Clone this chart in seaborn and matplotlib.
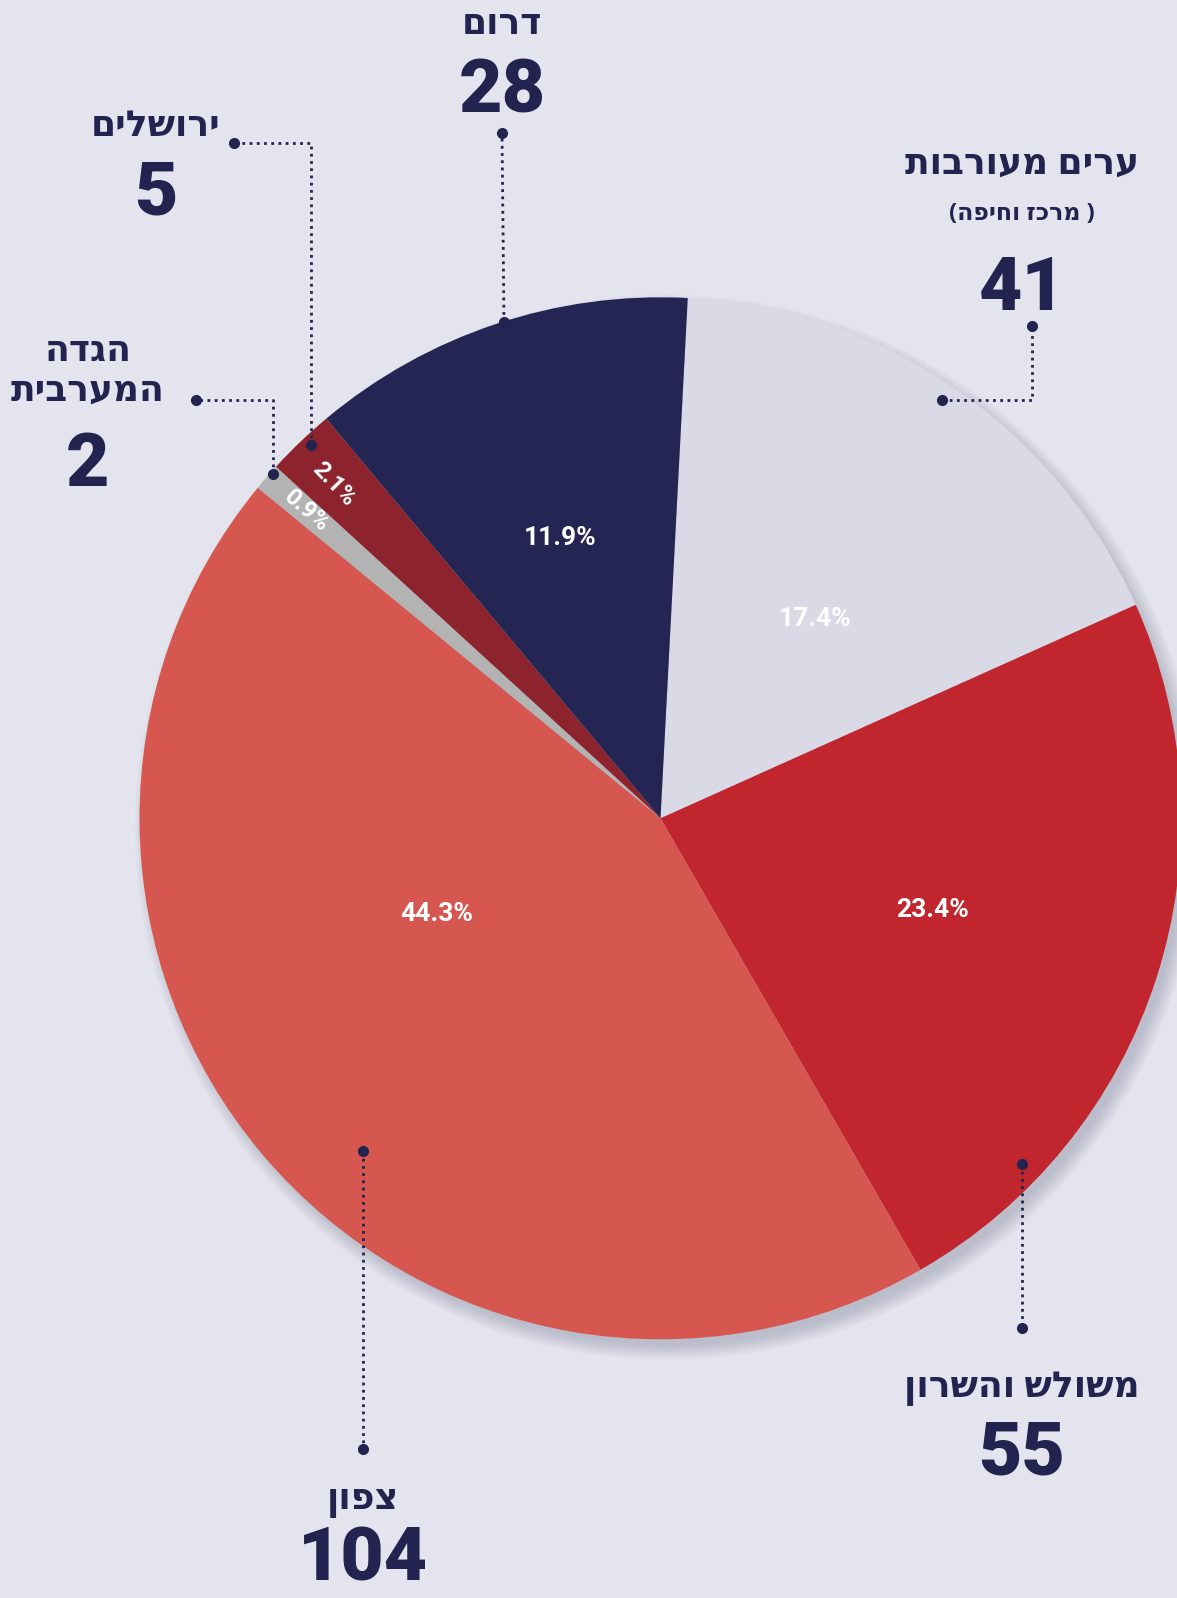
import numpy as np
import matplotlib
matplotlib.use("Agg")
import matplotlib.pyplot as plt
import seaborn as sns
from matplotlib.patches import Circle

# data (logical Hebrew order)
regions = ['ערים מעורבות', 'משולש והשרון', 'צפון', 'הגדה המערבית', 'ירושלים', 'דרום']
counts = [41, 55, 104, 2, 5, 28]
colors = ['#d9dae6', '#c1262f', '#d65750', '#b3b3b3', '#8d242d', '#242552']

W, H = 1177, 1598
BG = '#e3e4ee'
NAVY = '#22244f'
CX, CY, R = 660.5, 818.3, 521


def vis(s):
    # matplotlib has no bidi support, so flip Hebrew into visual order
    return s[::-1]


def Y(y):
    return H - y


sns.set_style('white', {'axes.facecolor': BG, 'figure.facecolor': BG})
heb = ['Open Sans', 'DejaVu Sans']
num = ['Roboto', 'DejaVu Sans']

fig = plt.figure(figsize=(W / 100, H / 100), dpi=100)
ax = fig.add_axes([0, 0, 1, 1])
ax.set_facecolor(BG)

# soft drop shadow
for k in range(14):
    ax.add_patch(Circle((CX + 7, Y(CY) - 9), R - 4 + k * 1.2, color='#8c8da0',
                        alpha=0.035, lw=0, zorder=0))

wedges, texts, autotexts = ax.pie(
    counts, colors=colors, startangle=87, counterclock=False,
    center=(CX, Y(CY)), radius=R, autopct='%1.1f%%', pctdistance=0.55,
    wedgeprops=dict(linewidth=0), textprops=dict(color='white'))

ax.set_xlim(0, W)
ax.set_ylim(0, H)
ax.set_aspect('equal')
ax.axis('off')


def polar(theta, frac):
    t = np.deg2rad(theta)
    return CX + R * frac * np.cos(t), Y(CY) + R * frac * np.sin(t)


# percent label placement: (angle shift from wedge middle, radius fraction, rotate)
pct_layout = [(-3.4, 0.483, False), (-0.7, 0.55, False), (-17.2, 0.468, False),
              (0.0, 0.90, True), (0.7, 0.897, True), (1.3, 0.571, False)]
for w, t, (dth, fr, rot) in zip(wedges, autotexts, pct_layout):
    mid = (w.theta1 + w.theta2) / 2
    t.set_position(polar(mid + dth, fr))
    t.set_fontfamily(num)
    t.set_fontweight('bold')
    t.set_fontsize(19)
    t.set_ha('center')
    t.set_va('center')
    if rot:
        t.set_rotation(mid - 180)
        t.set_fontsize(17)

# leader lines in image pixel coords
leaders = [
    [(942, 400), (1032, 400), (1032, 326)],
    [(1022, 1164), (1022, 1328)],
    [(363, 1151), (363, 1449)],
    [(273, 474), (273, 400), (196, 400)],
    [(311, 445), (311, 143), (234, 143)],
    [(504, 322), (502, 133)],
]
for pts in leaders:
    xs = [p[0] for p in pts]
    ys = [Y(p[1]) for p in pts]
    ax.plot(xs, ys, color=NAVY, lw=2, ls=(0, (1, 1.6)), zorder=5)
    ax.plot([xs[0], xs[-1]], [ys[0], ys[-1]], 'o', color=NAVY, ms=7, zorder=6)

# region names and counts
name_lines = [[regions[0]], [regions[1]], [regions[2]], ['הגדה', 'המערבית'],
              [regions[4]], [regions[5]]]
name_pos = [[(1022, 165)], [(1022, 1388)], [(363, 1500)],
            [(88, 352), (88, 392)], [(156, 127)], [(502, 25)]]
num_pos = [(1022, 290), (1022, 1454), (363, 1560), (88, 466), (156, 194), (502, 92)]

for lines, pos, n, np_ in zip(name_lines, name_pos, counts, num_pos):
    for s, (x, y) in zip(lines, pos):
        ax.text(x, Y(y), vis(s), ha='center', va='center', fontsize=26,
                fontweight='bold', color=NAVY, family=heb)
    ax.text(np_[0], Y(np_[1]), str(n), ha='center', va='center', fontsize=54,
            fontweight='black', color=NAVY, family=num)

ax.text(1022, Y(214), '(' + vis('מרכז וחיפה') + ' )', ha='center', va='center',
        fontsize=17, fontweight='bold', color=NAVY, family=heb)

fig.savefig('out.png', dpi=100, facecolor=BG)
